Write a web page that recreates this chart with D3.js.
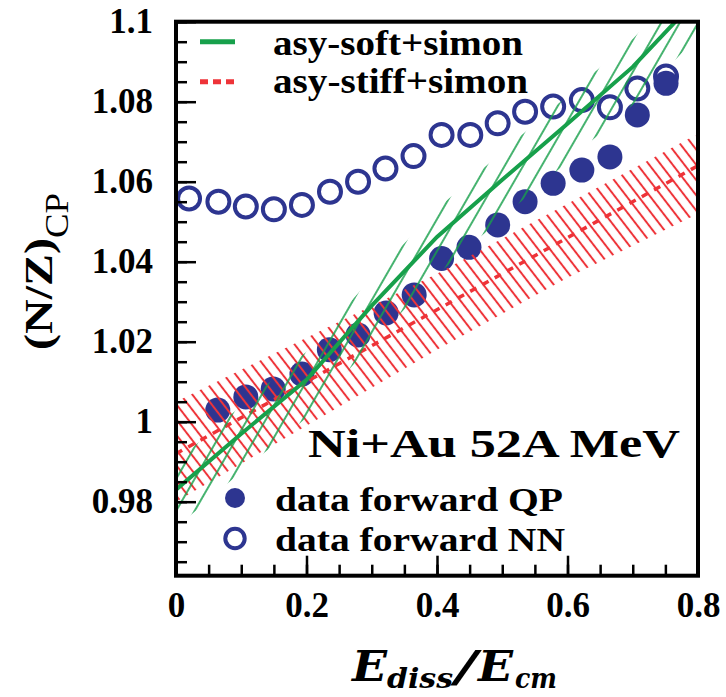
<!DOCTYPE html>
<html>
<head>
<meta charset="utf-8">
<script src="https://cdn.jsdelivr.net/npm/d3@7"></script>
<style>
  body { margin: 0; background: #fff; }
  svg { display: block; }
</style>
</head>
<body>
<svg id="chart" width="726" height="697"></svg>
<script>
// ---- measured (N/Z)_CP, forward quasi-projectile (filled) ----
const qpX = [0.064, 0.107, 0.149, 0.193, 0.235, 0.279, 0.322, 0.365, 0.407, 0.449, 0.493, 0.535, 0.578, 0.622, 0.665, 0.707, 0.751];
const qpY = [1.0029, 1.0062, 1.0082, 1.0119, 1.0180, 1.0217, 1.0272, 1.0317, 1.0408, 1.0436, 1.0492, 1.0550, 1.0596, 1.0629, 1.0662, 1.0767, 1.0846];

// ---- measured (N/Z)_CP, forward neck-neck (open) ----
const nnX = [0.020, 0.065, 0.107, 0.150, 0.193, 0.236, 0.279, 0.321, 0.364, 0.407, 0.451, 0.493, 0.535, 0.578, 0.622, 0.665, 0.707, 0.751];
const nnY = [1.0558, 1.0550, 1.0538, 1.0531, 1.0542, 1.0575, 1.0600, 1.0633, 1.0664, 1.0717, 1.0717, 1.0746, 1.0775, 1.0788, 1.0804, 1.0786, 1.0833, 1.0863];

// ---- asy-soft+simon model: central curve and band limits ----
const softX   = [0, 0.1, 0.2, 0.3, 0.4, 0.5, 0.6, 0.7, 0.8];
const softMid = [0.983, 0.997, 1.0105, 1.029, 1.0462, 1.0605, 1.0745, 1.0887, 1.106];
const softHi  = [0.990, 1.004, 1.0175, 1.036, 1.0532, 1.0675, 1.0815, 1.0957, 1.113];
const softLo  = [0.9735, 0.9875, 1.001, 1.0195, 1.0367, 1.051, 1.065, 1.0792, 1.0965];

// ---- asy-stiff+simon model: central curve and band limits ----
const stiffX   = [0, 0.2, 0.4, 0.6, 0.8];
const stiffMid = [0.992, 1.010, 1.028, 1.046, 1.064];
const stiffHi  = [1.005, 1.021, 1.037, 1.0545, 1.072];
const stiffLo  = [0.980, 0.999, 1.018, 1.036, 1.052];

// ---- axis ticks ----
const xTicks = [0, 0.2, 0.4, 0.6, 0.8];
const xTickLabels = ["0", "0.2", "0.4", "0.6", "0.8"];
const xMinorTicks = d3.range(0, 0.8001, 0.05);
const yTicks = [0.98, 1.0, 1.02, 1.04, 1.06, 1.08, 1.1];
const yTickLabels = ["0.98", "1", "1.02", "1.04", "1.06", "1.08", "1.1"];
const yMinorTicks = d3.range(0.965, 1.1001, 0.005);

const legendTop = ["asy-soft+simon", "asy-stiff+simon"];
const legendBottom = ["data forward QP", "data forward NN"];
const systemLabel = "Ni+Au 52A MeV";

const BLUE = "#2d3590", GREEN = "#17a04b", RED = "#ee3338";
const SERIF = "'Liberation Serif', 'Times New Roman', serif";

const svg = d3.select("#chart");
const x = d3.scaleLinear().domain([0, 0.8]).range([176, 698]);
const y = d3.scaleLinear().domain([0.96, 1.1]).range([581.7, 21.7]);
const yBottom = 0.9615;

const x0 = x(0), x1 = x(0.8), yTop = y(1.1), yBot = y(yBottom);

// hatch patterns for the model bands
const defs = svg.append("defs");
const gPat = defs.append("pattern").attr("id", "hatchSoft")
  .attr("patternUnits", "userSpaceOnUse").attr("width", 16).attr("height", 20)
  .attr("patternTransform", "rotate(30)");
gPat.append("line").attr("x1", 8).attr("y1", -2).attr("x2", 8).attr("y2", 22)
  .attr("stroke", GREEN).attr("stroke-width", 1.6);
const rPat = defs.append("pattern").attr("id", "hatchStiff")
  .attr("patternUnits", "userSpaceOnUse").attr("width", 9.3).attr("height", 20)
  .attr("patternTransform", "rotate(-37.6)");
rPat.append("line").attr("x1", 4.65).attr("y1", -2).attr("x2", 4.65).attr("y2", 22)
  .attr("stroke", RED).attr("stroke-width", 2);
defs.append("clipPath").attr("id", "plotClip").append("rect")
  .attr("x", x0).attr("y", yTop).attr("width", x1 - x0).attr("height", yBot - yTop);

// data points
const pts = svg.append("g");
pts.selectAll("circle.nn").data(nnX).join("circle").attr("class", "nn")
  .attr("cx", d => x(d)).attr("cy", (d, i) => y(nnY[i])).attr("r", 11)
  .attr("fill", "none").attr("stroke", BLUE).attr("stroke-width", 4);
pts.selectAll("circle.qp").data(qpX).join("circle").attr("class", "qp")
  .attr("cx", d => x(d)).attr("cy", (d, i) => y(qpY[i])).attr("r", 12.5)
  .attr("fill", BLUE);

// model bands
const bands = svg.append("g").attr("clip-path", "url(#plotClip)");
const bandArea = (xs, lo, hi) => d3.area()
  .x((d, i) => x(xs[i])).y0((d, i) => y(lo[i])).y1((d, i) => y(hi[i]))(xs);
const midLine = (xs, ys) => d3.line().x((d, i) => x(xs[i])).y((d, i) => y(ys[i]))(xs);

bands.append("path").attr("d", bandArea(stiffX, stiffLo, stiffHi)).attr("fill", "url(#hatchStiff)");
bands.append("path").attr("d", midLine(stiffX, stiffMid)).attr("fill", "none")
  .attr("stroke", RED).attr("stroke-width", 3.5).attr("stroke-dasharray", "7,7");
bands.append("path").attr("d", bandArea(softX, softLo, softHi)).attr("fill", "url(#hatchSoft)");
bands.append("path").attr("d", midLine(softX, softMid)).attr("fill", "none")
  .attr("stroke", GREEN).attr("stroke-width", 4);

// axes: ticks point inward, frame drawn separately
const yAxisMinor = d3.axisLeft(y).tickValues(yMinorTicks).tickSize(-11).tickFormat("");
const yAxis = d3.axisLeft(y).tickValues(yTicks).tickSize(-20).tickPadding(23)
  .tickFormat((d, i) => yTickLabels[i]);
const xAxisMinor = d3.axisBottom(x).tickValues(xMinorTicks).tickSize(-11).tickFormat("");
const xAxis = d3.axisBottom(x).tickValues(xTicks).tickSize(-20).tickPadding(16.5)
  .tickFormat((d, i) => xTickLabels[i]);

function styleAxis(g) {
  g.select(".domain").remove();
  g.selectAll("line").attr("stroke", "#000").attr("stroke-width", 2.5);
  g.selectAll("text").attr("font-family", SERIF).attr("font-weight", "bold")
    .attr("font-size", 35).attr("fill", "#000");
}
svg.append("g").attr("transform", `translate(${x0},0)`).call(yAxisMinor).call(styleAxis);
svg.append("g").attr("transform", `translate(${x0},0)`).call(yAxis).call(styleAxis);
svg.append("g").attr("transform", `translate(0,${yBot})`).call(xAxisMinor).call(styleAxis);
svg.append("g").attr("transform", `translate(0,${yBot})`).call(xAxis).call(styleAxis);

// frame
svg.append("rect").attr("x", x0).attr("y", yTop).attr("width", x1 - x0).attr("height", yBot - yTop)
  .attr("fill", "none").attr("stroke", "#000").attr("stroke-width", 4);

// axis titles
svg.append("text").attr("transform", "translate(52,350) rotate(-90)")
  .attr("font-family", SERIF).attr("font-weight", "bold").attr("font-size", 40)
  .attr("textLength", 112).attr("lengthAdjust", "spacingAndGlyphs").text("(N/Z)");
svg.append("text").attr("transform", "translate(68,238) rotate(-90)")
  .attr("font-family", SERIF).attr("font-size", 34)
  .attr("textLength", 45).attr("lengthAdjust", "spacingAndGlyphs").text("CP");

const MATH = "'DejaVu Serif', serif";
const xTitle = [
  { t: "E", x: 352, w: 35, fs: 43, base: 681 },
  { t: "diss", x: 387, w: 66, fs: 28, base: 688 },
  { t: "/", x: 455, w: 22, fs: 43, base: 681 },
  { t: "E", x: 478, w: 35, fs: 43, base: 681 },
  { t: "cm", x: 515, w: 42, fs: 28, base: 688 }
];
svg.append("g").selectAll("text").data(xTitle).join("text")
  .attr("x", d => d.x).attr("y", d => d.base)
  .attr("font-family", MATH).attr("font-weight", "bold").attr("font-style", "italic")
  .attr("font-size", d => d.fs).attr("textLength", d => d.w)
  .attr("lengthAdjust", "spacingAndGlyphs").text(d => d.t);

// model legend (top left)
const lg = svg.append("g");
lg.append("line").attr("x1", 200).attr("x2", 235).attr("y1", 41.7).attr("y2", 41.7)
  .attr("stroke", GREEN).attr("stroke-width", 5);
lg.append("line").attr("x1", 200).attr("x2", 235).attr("y1", 81.7).attr("y2", 81.7)
  .attr("stroke", RED).attr("stroke-width", 5).attr("stroke-dasharray", "8,5");
lg.append("text").attr("x", 273).attr("y", 55).attr("font-family", SERIF)
  .attr("font-weight", "bold").attr("font-size", 36).attr("textLength", 250)
  .attr("lengthAdjust", "spacingAndGlyphs").text(legendTop[0]);
lg.append("text").attr("x", 273).attr("y", 93).attr("font-family", SERIF)
  .attr("font-weight", "bold").attr("font-size", 36).attr("textLength", 255)
  .attr("lengthAdjust", "spacingAndGlyphs").text(legendTop[1]);

// system label and data legend
svg.append("text").attr("x", 308).attr("y", 457).attr("font-family", SERIF)
  .attr("font-weight", "bold").attr("font-size", 40).attr("textLength", 372)
  .attr("lengthAdjust", "spacingAndGlyphs").text(systemLabel);
const dl = svg.append("g");
dl.append("circle").attr("cx", 235).attr("cy", 498).attr("r", 10).attr("fill", BLUE);
dl.append("circle").attr("cx", 235).attr("cy", 538.5).attr("r", 9.7)
  .attr("fill", "none").attr("stroke", BLUE).attr("stroke-width", 4);
dl.append("text").attr("x", 275).attr("y", 511).attr("font-family", SERIF)
  .attr("font-weight", "bold").attr("font-size", 33).attr("textLength", 288)
  .attr("lengthAdjust", "spacingAndGlyphs").text(legendBottom[0]);
dl.append("text").attr("x", 275).attr("y", 551).attr("font-family", SERIF)
  .attr("font-weight", "bold").attr("font-size", 33).attr("textLength", 290)
  .attr("lengthAdjust", "spacingAndGlyphs").text(legendBottom[1]);
</script>
</body>
</html>
